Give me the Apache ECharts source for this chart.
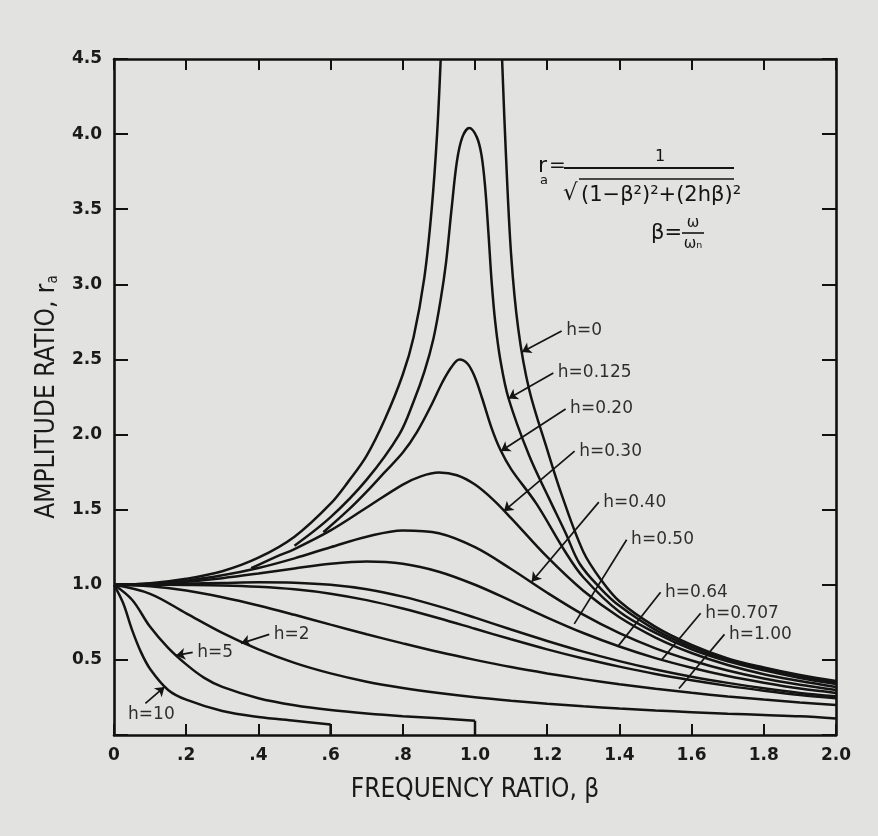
<!DOCTYPE html>
<html>
<head>
<meta charset="utf-8">
<title>Amplitude ratio vs frequency ratio</title>
<script src="https://cdn.jsdelivr.net/npm/echarts/dist/echarts.min.js"></script>
<style>
  html, body { margin: 0; padding: 0; background: #e2e2e0; }
  #chart { width: 878px; height: 836px; }
</style>
</head>
<body>
<div id="chart"></div>
<script>
// tick labels
const xTickLabels = ['0', '.2', '.4', '.6', '.8', '1.0', '1.2', '1.4', '1.6', '1.8', '2.0']
const yTickLabels = ['', '0.5', '1.0', '1.5', '2.0', '2.5', '3.0', '3.5', '4.0', '4.5']

// common beta grid for the well damped curves
const betaGrid = [0, 0.1, 0.2, 0.3, 0.4, 0.5, 0.6, 0.7, 0.8, 0.9, 1.0, 1.1, 1.2, 1.3, 1.4, 1.5, 1.6, 1.7, 1.8, 1.9, 2.0]
const rH040 = [1.0, 1.007, 1.027, 1.063, 1.112, 1.176, 1.25, 1.32, 1.362, 1.343, 1.25, 1.105, 0.947, 0.801, 0.678, 0.577, 0.496, 0.429, 0.376, 0.335, 0.30]
const rH050 = [1.0, 1.005, 1.02, 1.044, 1.075, 1.109, 1.14, 1.155, 1.14, 1.087, 1.0, 0.893, 0.782, 0.679, 0.589, 0.512, 0.448, 0.393, 0.348, 0.309, 0.28]
const rH064 = [1.0, 1.002, 1.007, 1.012, 1.017, 1.014, 1.0, 0.97, 0.921, 0.856, 0.781, 0.702, 0.626, 0.555, 0.492, 0.436, 0.388, 0.347, 0.311, 0.28, 0.258]
const rH0707 = [1.0, 1.0, 0.999, 0.996, 0.987, 0.97, 0.941, 0.898, 0.842, 0.777, 0.707, 0.637, 0.57, 0.509, 0.455, 0.406, 0.364, 0.327, 0.295, 0.267, 0.245]
const rH100 = [1.0, 0.99, 0.962, 0.917, 0.862, 0.8, 0.735, 0.671, 0.61, 0.552, 0.5, 0.452, 0.41, 0.372, 0.338, 0.308, 0.281, 0.257, 0.236, 0.217, 0.2]
const rH2 = [1.0, 0.94, 0.81, 0.68, 0.57, 0.48, 0.41, 0.355, 0.313, 0.279, 0.251, 0.228, 0.208, 0.191, 0.176, 0.163, 0.152, 0.142, 0.133, 0.124, 0.11]

// h = 0 (two branches)
const betaH0Left = [0, 0.1, 0.2, 0.3, 0.4, 0.5, 0.6, 0.65, 0.7, 0.75, 0.8, 0.83, 0.86, 0.88, 0.895, 0.905]
const rH0Left = [1.0, 1.01, 1.04, 1.09, 1.18, 1.32, 1.54, 1.69, 1.86, 2.1, 2.4, 2.65, 3.05, 3.5, 4.0, 4.5]
const betaH0Right = [1.075, 1.085, 1.1, 1.12, 1.15, 1.2, 1.24, 1.3, 1.35, 1.4, 1.5, 1.6, 1.7, 1.8, 1.9, 2.0]
const rH0Right = [4.5, 3.9, 3.2, 2.7, 2.3, 1.9, 1.6, 1.22, 1.03, 0.89, 0.72, 0.6, 0.51, 0.45, 0.4, 0.36]

// h = 0.125
const betaH0125 = [0.5, 0.6, 0.7, 0.79, 0.83, 0.86, 0.885, 0.905, 0.92, 0.935, 0.95, 0.965, 0.984, 1.005, 1.018, 1.028, 1.037, 1.046, 1.056, 1.07, 1.093, 1.15, 1.204, 1.25, 1.29, 1.35, 1.4, 1.5, 1.6, 1.7, 1.8, 1.9, 2.0]
const rH0125 = [1.26, 1.45, 1.7, 2.0, 2.22, 2.42, 2.64, 2.9, 3.15, 3.5, 3.82, 3.98, 4.04, 3.98, 3.86, 3.65, 3.35, 3.02, 2.75, 2.5, 2.24, 1.86, 1.58, 1.35, 1.14, 0.97, 0.86, 0.7, 0.585, 0.5, 0.44, 0.39, 0.35]

// h = 0.20
const betaH020 = [0.58, 0.65, 0.7, 0.75, 0.8, 0.84, 0.88, 0.91, 0.935, 0.957, 0.98, 1.0, 1.02, 1.045, 1.07, 1.1, 1.17, 1.25, 1.3, 1.4, 1.5, 1.6, 1.7, 1.8, 1.9, 2.0]
const rH020 = [1.35, 1.5, 1.62, 1.75, 1.88, 2.02, 2.2, 2.35, 2.45, 2.5, 2.47, 2.38, 2.24, 2.05, 1.9, 1.77, 1.54, 1.22, 1.05, 0.82, 0.68, 0.57, 0.49, 0.43, 0.38, 0.34]

// h = 0.30
const betaH030 = [0.38, 0.45, 0.5, 0.6, 0.7, 0.8, 0.85, 0.9, 0.95, 1.0, 1.05, 1.1, 1.2, 1.3, 1.4, 1.5, 1.6, 1.7, 1.8, 1.9, 2.0]
const rH030 = [1.11, 1.188, 1.238, 1.362, 1.514, 1.667, 1.722, 1.747, 1.729, 1.667, 1.567, 1.444, 1.185, 0.96, 0.784, 0.649, 0.546, 0.466, 0.405, 0.36, 0.32]

// h = 5 and h = 10 (cut off with a drop to the axis)
const betaH5 = [0, 0.05, 0.1, 0.15, 0.2, 0.25, 0.3, 0.4, 0.5, 0.6, 0.7, 0.8, 0.9, 1.0]
const rH5 = [1.0, 0.9, 0.72, 0.58, 0.47, 0.38, 0.32, 0.245, 0.198, 0.166, 0.143, 0.125, 0.111, 0.095]
const h5Drop = [[1.0, 0.095], [1.0, 0]]
const betaH10 = [0, 0.025, 0.05, 0.075, 0.1, 0.15, 0.2, 0.3, 0.4, 0.5, 0.6]
const rH10 = [1.0, 0.88, 0.7, 0.55, 0.44, 0.3, 0.235, 0.16, 0.12, 0.095, 0.07]
const h10Drop = [[0.6, 0.07], [0.6, 0]]

// curve labels and leaders (data coordinates)
const arrowLeaders = [
  { name: 'h=0', from: [1.24, 2.69], to: [1.13, 2.55] },
  { name: 'h=0.125', from: [1.217, 2.41], to: [1.093, 2.24] },
  { name: 'h=0.20', from: [1.251, 2.17], to: [1.072, 1.89] },
  { name: 'h=0.30', from: [1.276, 1.89], to: [1.08, 1.49] },
  { name: 'h=0.40', from: [1.343, 1.55], to: [1.157, 1.02] },
  { name: 'h=2', from: [0.43, 0.67], to: [0.352, 0.61] },
  { name: 'h=5', from: [0.218, 0.55], to: [0.172, 0.53] },
  { name: 'h=10', from: [0.087, 0.21], to: [0.14, 0.32] }
]
const plainLeaders = [
  { name: 'h=0.50', from: [1.42, 1.3], to: [1.275, 0.74] },
  { name: 'h=0.64', from: [1.514, 0.95], to: [1.396, 0.59] },
  { name: 'h=0.707', from: [1.625, 0.81], to: [1.517, 0.5] },
  { name: 'h=1.00', from: [1.691, 0.67], to: [1.565, 0.31] }
]

const ink = '#141414'
const font = 'DejaVu Sans'
const condensed = '"DejaVu Sans Condensed", "DejaVu Sans"'

function pairs(xs, ys) {
  return xs.map((x, i) => [x, ys[i]])
}

function curve(name, data, smooth) {
  return {
    name: name,
    type: 'line',
    data: data,
    showSymbol: false,
    smooth: smooth === undefined ? 0.35 : smooth,
    lineStyle: { color: ink, width: 2.5 },
    silent: true,
    z: 3
  }
}

const chart = echarts.init(document.getElementById('chart'))

const axisLine = { onZero: false, lineStyle: { color: '#111', width: 2.6 } }
const tickStyle = { color: '#111', width: 2 }

chart.setOption({
  backgroundColor: '#e2e2e0',
  animation: false,
  grid: { left: 114, right: 42, top: 59, bottom: 101 },
  xAxis: [{
    type: 'value',
    min: 0,
    max: 2,
    interval: 0.2,
    position: 'bottom',
    axisLine: axisLine,
    axisTick: { inside: true, length: 11, lineStyle: tickStyle },
    axisLabel: {
      margin: 12,
      color: '#1a1a1a',
      fontSize: 17,
      fontWeight: 'bold',
      fontFamily: font,
      formatter: v => xTickLabels[Math.round(v / 0.2)]
    },
    splitLine: { show: false },
    name: 'FREQUENCY RATIO, β',
    nameLocation: 'middle',
    nameGap: 42,
    nameTextStyle: { color: '#1a1a1a', fontSize: 26, fontFamily: condensed }
  }, {
    type: 'value',
    min: 0,
    max: 2,
    interval: 0.2,
    position: 'top',
    axisLine: axisLine,
    axisTick: { inside: true, length: 11, lineStyle: tickStyle },
    axisLabel: { show: false },
    splitLine: { show: false }
  }],
  yAxis: [{
    type: 'value',
    min: 0,
    max: 4.5,
    interval: 0.5,
    position: 'left',
    axisLine: axisLine,
    axisTick: { inside: true, length: 14, lineStyle: tickStyle },
    axisLabel: {
      margin: 12,
      color: '#1a1a1a',
      fontSize: 17,
      fontWeight: 'bold',
      fontFamily: font,
      formatter: v => yTickLabels[Math.round(v / 0.5)]
    },
    splitLine: { show: false },
    name: 'AMPLITUDE RATIO, {r|r}{s|a}',
    nameLocation: 'middle',
    nameGap: 52,
    nameTextStyle: {
      color: '#1a1a1a',
      fontSize: 26,
      fontFamily: condensed,
      rich: {
        r: { fontSize: 26, fontFamily: condensed, color: '#1a1a1a' },
        s: { fontSize: 15, fontFamily: condensed, color: '#1a1a1a', padding: [12, 0, 0, 0] }
      }
    }
  }, {
    type: 'value',
    min: 0,
    max: 4.5,
    interval: 0.5,
    position: 'right',
    axisLine: axisLine,
    axisTick: { inside: true, length: 14, lineStyle: tickStyle },
    axisLabel: { show: false },
    splitLine: { show: false }
  }],
  series: [
    curve('h=0 left', pairs(betaH0Left, rH0Left)),
    curve('h=0 right', pairs(betaH0Right, rH0Right)),
    curve('h=0.125', pairs(betaH0125, rH0125)),
    curve('h=0.20', pairs(betaH020, rH020)),
    curve('h=0.30', pairs(betaH030, rH030)),
    curve('h=0.40', pairs(betaGrid, rH040)),
    curve('h=0.50', pairs(betaGrid, rH050)),
    curve('h=0.64', pairs(betaGrid, rH064)),
    curve('h=0.707', pairs(betaGrid, rH0707)),
    curve('h=1.00', pairs(betaGrid, rH100)),
    curve('h=2', pairs(betaGrid, rH2)),
    curve('h=5', pairs(betaH5, rH5)),
    curve('h=5 drop', h5Drop, false),
    curve('h=10', pairs(betaH10, rH10)),
    curve('h=10 drop', h10Drop, false),
    {
      name: 'arrow leaders',
      type: 'lines',
      coordinateSystem: 'cartesian2d',
      symbol: ['none', 'arrow'],
      symbolSize: 9,
      lineStyle: { color: ink, width: 1.7, opacity: 1 },
      silent: true,
      data: arrowLeaders.map(l => ({ coords: [l.from, l.to] }))
    },
    {
      name: 'plain leaders',
      type: 'lines',
      coordinateSystem: 'cartesian2d',
      symbol: ['none', 'none'],
      lineStyle: { color: ink, width: 1.7, opacity: 1 },
      silent: true,
      data: plainLeaders.map(l => ({ coords: [l.from, l.to] }))
    },
    {
      name: 'labels',
      type: 'scatter',
      symbolSize: 1,
      itemStyle: { color: 'rgba(0,0,0,0)' },
      silent: true,
      z: 5,
      label: {
        show: true,
        position: 'right',
        distance: 4,
        color: '#000',
        fontSize: 17,
        fontFamily: font,
        formatter: p => p.name
      },
      data: arrowLeaders.concat(plainLeaders).map(l => {
        const item = { name: l.name, value: l.from }
        if (l.name === 'h=10') {
          item.label = { position: 'bottom', distance: 2, offset: [6, 0] }
        }
        return item
      })
    }
  ],
  graphic: [
    { type: 'text', x: 538, y: 166, style: { text: 'r', font: '22px "DejaVu Sans"', fill: ink, textVerticalAlign: 'middle' } },
    { type: 'text', x: 540, y: 181, style: { text: 'a', font: '13px "DejaVu Sans"', fill: ink, textVerticalAlign: 'middle' } },
    { type: 'text', x: 549, y: 166, style: { text: '=', font: '20px "DejaVu Sans"', fill: ink, textVerticalAlign: 'middle' } },
    { type: 'line', shape: { x1: 564, y1: 168, x2: 734, y2: 168 }, style: { stroke: ink, lineWidth: 2 } },
    { type: 'text', x: 660, y: 157, style: { text: '1', font: '16px "DejaVu Sans"', fill: ink, textAlign: 'center', textVerticalAlign: 'middle' } },
    { type: 'text', x: 563, y: 194, style: { text: '√', font: '23px "DejaVu Sans"', fill: ink, textVerticalAlign: 'middle' } },
    { type: 'line', shape: { x1: 579, y1: 179, x2: 734, y2: 179 }, style: { stroke: ink, lineWidth: 1.6 } },
    { type: 'text', x: 581, y: 196, style: { text: '(1−β²)²+(2hβ)²', font: '21px "DejaVu Sans"', fill: ink, textVerticalAlign: 'middle' } },
    { type: 'text', x: 651, y: 234, style: { text: 'β=', font: '21px "DejaVu Sans"', fill: ink, textVerticalAlign: 'middle' } },
    { type: 'text', x: 693, y: 223, style: { text: 'ω', font: '15px "DejaVu Sans"', fill: ink, textAlign: 'center', textVerticalAlign: 'middle' } },
    { type: 'line', shape: { x1: 682, y1: 233, x2: 704, y2: 233 }, style: { stroke: ink, lineWidth: 1.6 } },
    { type: 'text', x: 693, y: 244, style: { text: 'ωₙ', font: '15px "DejaVu Sans"', fill: ink, textAlign: 'center', textVerticalAlign: 'middle' } }
  ]
})
</script>
</body>
</html>
